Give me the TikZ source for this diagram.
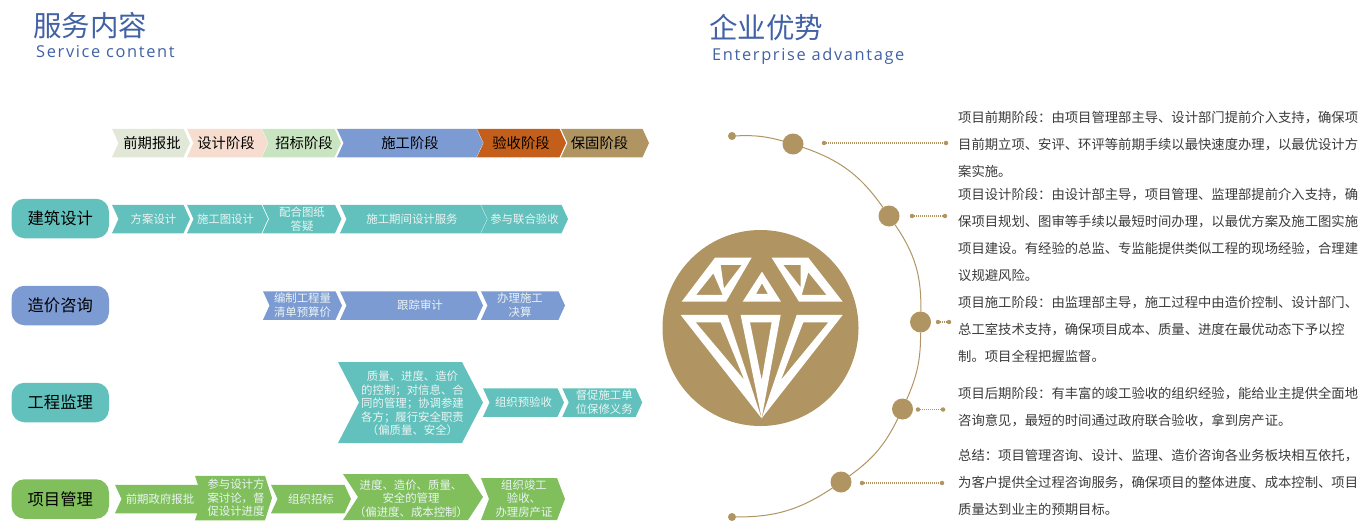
\documentclass[tikz,border=0pt]{standalone}
\usepackage{fontspec}
\setmainfont{Noto Sans CJK SC}
\newfontfamily\latinfont[LetterSpace=10]{Open Sans}
\usetikzlibrary{shapes.symbols}
\definecolor{teal1}{HTML}{62C1BC}
\definecolor{blue1}{HTML}{7C9BD2}
\definecolor{green1}{HTML}{80BF5C}
\definecolor{gold1}{HTML}{B09563}
\definecolor{orange1}{HTML}{C45F1B}
\definecolor{head1}{HTML}{E1E8D8}
\definecolor{head2}{HTML}{F7DDCF}
\definecolor{head3}{HTML}{C9E4C0}
\definecolor{title1}{HTML}{4262A5}
\definecolor{small1}{HTML}{EAF4F3}
\definecolor{body1}{HTML}{3A3A3A}
\def\dou{^^^^ff0c}
\def\mao{^^^^ff1a}
\def\fen{^^^^ff1b}
\def\zuo{^^^^ff08}
\def\you{^^^^ff09}
\begin{document}
\begin{tikzpicture}[x=1pt,y=-1pt,
    chev/.style n args={3}{shape=signal,signal to=east,signal from=west,inner sep=0pt,outer sep=0pt,minimum width=#1,minimum height=#2,signal pointer angle={2*atan(#2/2/#3)},align=center,font=\fontsize{11.4}{14}\selectfont,text=small1},
    head/.style={chev={#1}{28.5}{6.5},font=\fontsize{14.3}{17}\selectfont,text=black},
    item/.style={chev={#1}{28.5}{6.5}},
    tall/.style={inner sep=0pt,align=center,text=small1,font=\fontsize{11.4}{13.4}\selectfont},
    lane/.style={draw=none,shape=rectangle,rounded corners=13pt,minimum width=97.5pt,minimum height=39.5pt,inner sep=0pt,font=\fontsize{16.3}{19}\selectfont,text=black},
    title/.style={anchor=west,inner sep=0pt,text=title1,font=\fontsize{28.5}{32}\selectfont},
    subtitle/.style={anchor=base west,inner sep=0pt,text=title1,font=\fontsize{16.4}{18}\latinfont},
    bigdot/.style={circle,fill=gold1,minimum size=21pt,inner sep=0pt,outer sep=0pt},
    enddot/.style={circle,fill=gold1,minimum size=8pt,inner sep=0pt,outer sep=0pt},
    tick/.style={circle,fill=gold1,minimum size=4.5pt,inner sep=0pt,outer sep=0pt},
    arc/.style={draw=gold1,line width=1pt},
    leader/.style={draw=gold1,line width=1.2pt,dash pattern=on 1pt off 1pt},
    para/.style={anchor=north west,inner sep=0pt,align=left,text=body1,font=\fontsize{13.33}{27}\selectfont}]
    \useasboundingbox (0,0) rectangle (1372,530);

    \node[title] (t1) at (33,26) {服务内容};
    \node[subtitle] (s1) at (36,57) {Service content};
    \node[title] (t2) at (709,28) {企业优势};
    \node[subtitle] (s2) at (712,60) {Enterprise advantage};

    \node[head=78pt,fill=head1] (h1) at (151,143) {\hspace*{2pt}前期报批};
    \node[head=81pt,fill=head2] (h2) at (227.5,143) {设计阶段\hspace*{3pt}};
    \node[head=79pt,fill=head3] (h3) at (301.5,143) {\hspace*{5pt}招标阶段};
    \node[head=146pt,fill=blue1] (h4) at (410,143) {施工阶段};
    \node[head=89pt,fill=orange1] (h5) at (521.5,143) {验收阶段\hspace*{1pt}};
    \node[head=88pt,fill=gold1] (h6) at (605,143) {保固阶段\hspace*{11pt}};

    \node[lane,fill=teal1] (l1) at (60.25,218.5) {建筑设计};
    \node[lane,fill=blue1] (l2) at (60.25,305.5) {造价咨询};
    \node[lane,fill=teal1] (l3) at (60.25,402.5) {工程监理};
    \node[lane,fill=green1] (l4) at (60.25,499) {项目管理};

    \node[item=78pt,fill=teal1] (a1) at (151,219) {\hspace*{5pt}方案设计};
    \node[item=81pt,fill=teal1] (a2) at (227.5,219) {施工图设计\hspace*{4pt}};
    \node[item=79pt,fill=teal1] (a3) at (302,219) {配合图纸\\答疑};
    \node[item=147pt,fill=teal1] (a4) at (413.5,219) {施工期间设计服务\hspace*{3pt}};
    \node[item=87pt,fill=teal1] (a5) at (524.5,219) {参与联合验收};

    \node[item=79pt,fill=blue1] (b1) at (302.5,305.5) {编制工程量\\清单预算价};
    \node[item=143pt,fill=blue1] (b2) at (411.5,305.5) {\hspace*{17pt}跟踪审计};
    \node[item=84pt,fill=blue1] (b3) at (523,305.5) {办理施工\hspace*{6pt}\\决算\hspace*{6pt}};

    \node[chev={145pt}{81pt}{21},fill=teal1] (c1) at (410.5,402.5) {};
    \node[tall] (c1t) at (412.5,403.5) {质量、进度、造价\\的控制\fen 对信息、合\\同的管理\fen 协调参建\\各方\fen 履行安全职责\\\zuo 偏质量、安全\you};
    \node[item=81pt,fill=teal1] (c2) at (523.5,402.5) {组织预验收};
    \node[item=80pt,fill=teal1] (c3) at (602.25,402.5) {\hspace*{4pt}督促施工单\\\hspace*{4pt}位保修义务};

    \node[item=90pt,fill=green1] (d1) at (160,499) {前期政府报批};
    \node[chev={77pt}{44.5pt}{7},fill=green1] (d2) at (233.5,498) {};
    \node[tall] (d2t) at (236,498) {参与设计方\\案讨论\dou 督\\促设计进度};
    \node[item=80pt,fill=green1] (d3) at (311,499) {组织招标};
    \node[chev={140pt}{46pt}{15},fill=green1] (d4) at (413,497) {};
    \node[tall] (d4t) at (411,498.5) {进度、造价、质量、\\安全的管理\\\zuo 偏进度、成本控制\you};
    \node[chev={84pt}{42pt}{8},fill=green1] (d5) at (523,499) {};
    \node[tall] (d5t) at (524,498.5) {组织竣工\\验收、\\办理房产证};

    \node[circle,fill=gold1,minimum size=196pt,inner sep=0pt,outer sep=0pt] (gem) at (760.5,328) {};
    \begin{scope}[shift={(650,210)},x=0.3333pt,y=-0.3333pt]
        \fill[white,even odd rule] (95,275) -- (195,143) -- (305,143) -- (228,275) -- cycle
            (190,190) -- (218,255) -- (138,255) -- cycle
            (212,165) -- (275,165) -- (222,235) -- cycle;
        \fill[white,even odd rule] (278,275) -- (336,185) -- (393,275) -- cycle
            (336,220) -- (354,252) -- (318,252) -- cycle;
        \fill[white,even odd rule] (365,143) -- (475,143) -- (578,275) -- (447,275) -- cycle
            (400,165) -- (452,165) -- (452,232) -- cycle
            (475,187) -- (530,255) -- (455,255) -- cycle;
        \fill[white,even odd rule] (92,315) -- (232,315) -- (335,625) -- cycle
            (137,337) -- (212,337) -- (283,510) -- cycle;
        \fill[white,even odd rule] (272,315) -- (392,315) -- (335,625) -- cycle
            (300,337) -- (365,337) -- (335,510) -- cycle;
        \fill[white,even odd rule] (440,315) -- (578,315) -- (335,625) -- cycle
            (460,337) -- (535,337) -- (393,510) -- cycle;
    \end{scope}

    \node[enddot] (e1) at (732,136) {};
    \node[bigdot] (p1) at (793,144) {};
    \node[bigdot] (p2) at (889,216) {};
    \node[bigdot] (p3) at (920.5,322) {};
    \node[bigdot] (p4) at (902.5,409) {};
    \node[bigdot] (p5) at (841,482) {};
    \node[enddot] (e2) at (732,517) {};
    \draw[arc] (e1) to[bend left=9] (p1);
    \draw[arc] (p1) to[bend left=18] (p2);
    \draw[arc] (p2) to[bend left=18] (p3);
    \draw[arc] (p3) to[bend left=12] (p4);
    \draw[arc] (p4) to[bend left=14] (p5);
    \draw[arc] (p5) to[bend left=17] (e2);

    \node[tick] (q1) at (824,143) {};
    \node[tick] (r1) at (946,143) {};
    \node[tick] (q2) at (912,216) {};
    \node[tick] (r2) at (945,216) {};
    \node[tick] (q3) at (938,322) {};
    \node[tick] (r3) at (949,322) {};
    \node[tick] (q4) at (918,409.5) {};
    \node[tick] (r4) at (943,409.5) {};
    \node[tick] (q5) at (862,483) {};
    \node[tick] (r5) at (942,483) {};
    \draw[leader] (q1) -- (r1);
    \draw[leader] (q2) -- (r2);
    \draw[leader] (q3) -- (r3);
    \draw[leader] (q4) -- (r4);
    \draw[leader] (q5) -- (r5);

    \node[para] (n1) at (958,111) {项目前期阶段\mao 由项目管理部主导、设计部门提前介入支持\dou 确保项\\目前期立项、安评、环评等前期手续以最快速度办理\dou 以最优设计方\\案实施。};
    \node[para] (n2) at (958,188) {项目设计阶段\mao 由设计部主导\dou 项目管理、监理部提前介入支持\dou 确\\保项目规划、图审等手续以最短时间办理\dou 以最优方案及施工图实施\\项目建设。有经验的总监、专监能提供类似工程的现场经验\dou 合理建\\议规避风险。};
    \node[para] (n3) at (958,296) {项目施工阶段\mao 由监理部主导\dou 施工过程中由造价控制、设计部门、\\总工室技术支持\dou 确保项目成本、质量、进度在最优动态下予以控\\制。项目全程把握监督。};
    \node[para] (n4) at (958,387) {项目后期阶段\mao 有丰富的竣工验收的组织经验\dou 能给业主提供全面地\\咨询意见\dou 最短的时间通过政府联合验收\dou 拿到房产证。};
    \node[para] (n5) at (958,449) {总结\mao 项目管理咨询、设计、监理、造价咨询各业务板块相互依托\dou\\为客户提供全过程咨询服务\dou 确保项目的整体进度、成本控制、项目\\质量达到业主的预期目标。};
\end{tikzpicture}
\end{document}
